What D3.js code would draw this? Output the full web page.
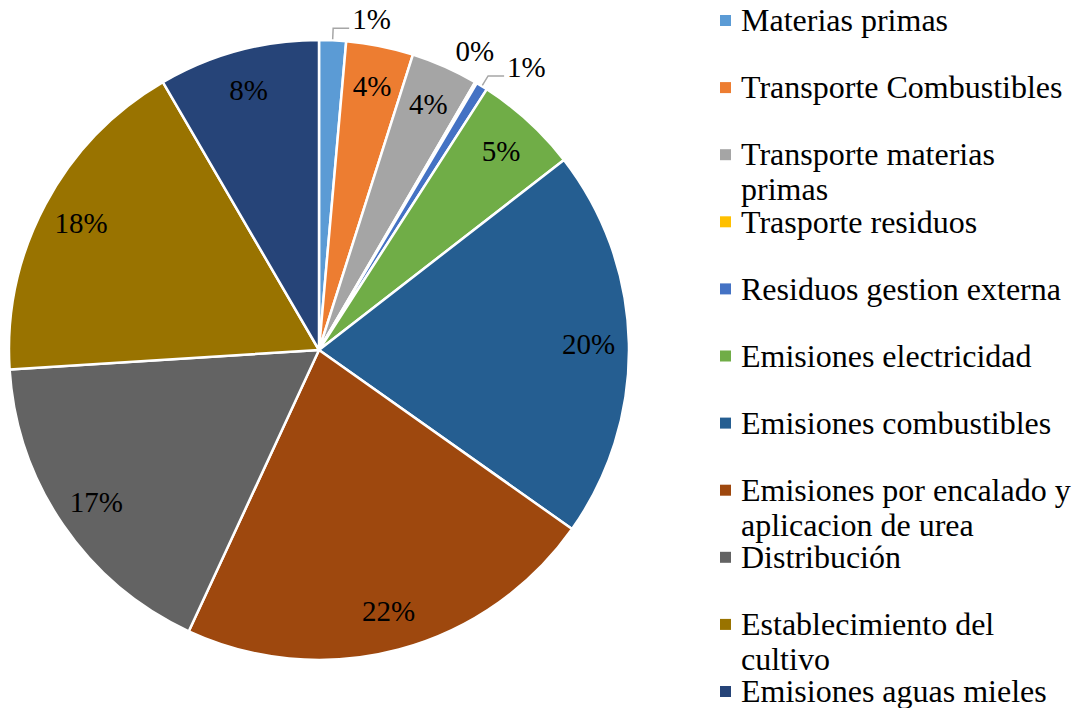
<!DOCTYPE html>
<html>
  <head>
    <meta charset="utf-8">
    <style>
      body,
      html {
        width: 100%;
        height: 100%;
        margin: 0;
        padding: 0;
        overflow: hidden;
        background: #fff;
      }
      svg {
        display: block;
      }
      text {
        font-family: "Liberation Serif", "Times New Roman", serif;
      }
    </style>
  </head>
  <body>
    <script src="https://cdn.jsdelivr.net/npm/d3@7"></script>
    <script>
      const categories = [
        "Materias primas",
        "Transporte Combustibles",
        "Transporte materias primas",
        "Trasporte residuos",
        "Residuos gestion externa",
        "Emisiones electricidad",
        "Emisiones combustibles",
        "Emisiones por encalado y aplicacion de urea",
        "Distribución",
        "Establecimiento del cultivo",
        "Emisiones aguas mieles",
      ];
      // share of each category
      const values = [1.4, 3.5, 3.5, 0.1, 0.6, 5.4, 20.3, 22.1, 17.1, 17.6, 8.4];
      const pctLabels = ["1%", "4%", "4%", "0%", "1%", "5%", "20%", "22%", "17%", "18%", "8%"];
      const colors = [
        "#5B9BD5", "#ED7D31", "#A5A5A5", "#FFC000", "#4472C4", "#70AD47",
        "#255E91", "#9E480E", "#636363", "#997300", "#264478",
      ];

      const width = 1077;
      const height = 708;
      const cx = 319;
      const cy = 350;
      const radius = 310;

      const svg = d3
        .select("body")
        .append("svg")
        .attr("width", width)
        .attr("height", height);

      const data = categories.map((c, i) => ({ name: c, value: values[i], label: pctLabels[i], color: colors[i] }));

      const pie = d3.pie().sort(null).value((d) => d.value);
      const arcs = pie(data);
      const arc = d3.arc().innerRadius(0).outerRadius(radius);
      const labelArc = d3.arc().innerRadius(radius * 0.87).outerRadius(radius * 0.87);

      const g = svg.append("g").attr("transform", `translate(${cx},${cy})`);

      g.selectAll("path")
        .data(arcs)
        .enter()
        .append("path")
        .attr("d", arc)
        .attr("fill", (d) => d.data.color)
        .attr("stroke", "#fff")
        .attr("stroke-width", 2.5)
        .attr("stroke-linejoin", "round");

      const fontSize = 29;

      // point on a circle of radius r at pie angle a (0 = 12 o'clock, clockwise)
      function pt(a, r) {
        return [Math.sin(a) * r, -Math.cos(a) * r];
      }

      arcs.forEach((d) => {
        const mid = (d.startAngle + d.endAngle) / 2;
        if (d.data.value >= 2) {
          const c = labelArc.centroid(d);
          g.append("text")
            .attr("x", c[0])
            .attr("y", c[1])
            .attr("dy", "0.35em")
            .attr("text-anchor", "middle")
            .attr("font-size", fontSize)
            .attr("fill", "#000")
            .text(d.data.label);
        } else if (d.data.value >= 0.3) {
          // outside label with a leader line
          const p0 = pt(mid, radius + 1);
          const p1 = pt(mid, radius + 12);
          const p2 = [p1[0] + 16, p1[1]];
          g.append("polyline")
            .attr("points", [p0, p1, p2].map((p) => p.join(",")).join(" "))
            .attr("fill", "none")
            .attr("stroke", "#A6A6A6")
            .attr("stroke-width", 1.5);
          g.append("text")
            .attr("x", p2[0] + 3)
            .attr("y", p2[1] - 9)
            .attr("dy", "0.35em")
            .attr("text-anchor", "start")
            .attr("font-size", fontSize)
            .attr("fill", "#000")
            .text(d.data.label);
        } else {
          const p = pt(mid, radius + 30);
          g.append("text")
            .attr("x", p[0] + 3)
            .attr("y", p[1] - 6)
            .attr("dy", "0.35em")
            .attr("text-anchor", "end")
            .attr("font-size", fontSize)
            .attr("fill", "#000")
            .text(d.data.label);
        }
      });

      // legend
      const legendX = 720;
      const legendY0 = 20;
      const legendStep = 67.1;
      const legendFont = 32;
      const lineH = 35;
      const maxW = 335;

      const legend = svg.append("g");
      data.forEach((d, i) => {
        const y = legendY0 + i * legendStep;
        legend
          .append("rect")
          .attr("x", legendX)
          .attr("y", y - 5)
          .attr("width", 11)
          .attr("height", 11)
          .attr("fill", d.color);
        const t = legend
          .append("text")
          .attr("x", legendX + 21)
          .attr("y", y)
          .attr("font-size", legendFont)
          .attr("fill", "#000");
        // simple word wrap
        const words = d.name.split(" ");
        let line = [];
        let tspan = t.append("tspan").attr("x", legendX + 21).attr("dy", "0.35em");
        words.forEach((w) => {
          line.push(w);
          tspan.text(line.join(" "));
          if (tspan.node().getComputedTextLength() > maxW && line.length > 1) {
            line.pop();
            tspan.text(line.join(" "));
            line = [w];
            tspan = t.append("tspan").attr("x", legendX + 21).attr("dy", lineH).text(w);
          }
        });
      });
    </script>
  </body>
</html>
